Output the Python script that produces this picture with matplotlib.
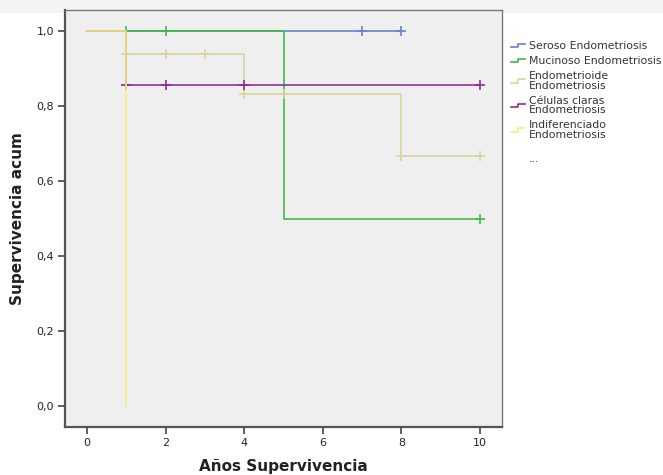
import matplotlib
matplotlib.use('Agg')
from matplotlib import pyplot as plt
from matplotlib.lines import Line2D
from matplotlib.legend_handler import HandlerBase
from matplotlib.patches import Rectangle
from matplotlib.ticker import FuncFormatter

# datos Kaplan-Meier
grupos = ['Seroso Endometriosis', 'Mucinoso Endometriosis', 'Endometrioide\nEndometriosis',
          'Células claras\nEndometriosis', 'Indiferenciado\nEndometriosis']
colores = ['#6a7fd0', '#3dbb4c', '#d9d49c', '#8e2e8e', '#f6f07a']

seroso_t = [0, 8]
seroso_s = [1.0, 1.0]
seroso_ct = [7, 8]
seroso_cs = [1.0, 1.0]

mucinoso_t = [0, 5, 10]
mucinoso_s = [1.0, 0.5, 0.5]
mucinoso_ct = [1, 2, 10]
mucinoso_cs = [1.0, 1.0, 0.5]

endometrioide_t = [0, 1, 4, 8, 10]
endometrioide_s = [1.0, 0.9375, 0.8333, 0.6667, 0.6667]
endometrioide_ct = [1, 2, 3, 4, 5, 8, 10]
endometrioide_cs = [0.9375, 0.9375, 0.9375, 0.8333, 0.8333, 0.6667, 0.6667]

claras_t = [0, 1, 10]
claras_s = [1.0, 0.857, 0.857]
claras_ct = [1, 2, 4, 10]
claras_cs = [0.857, 0.857, 0.857, 0.857]

indif_t = [0, 1, 1]
indif_s = [1.0, 1.0, 0.0]
indif_ct = []
indif_cs = []

series = [
    (seroso_t, seroso_s, seroso_ct, seroso_cs),
    (mucinoso_t, mucinoso_s, mucinoso_ct, mucinoso_cs),
    (endometrioide_t, endometrioide_s, endometrioide_ct, endometrioide_cs),
    (claras_t, claras_s, claras_ct, claras_cs),
    (indif_t, indif_s, indif_ct, indif_cs),
]


class StepHandler(HandlerBase):
    def create_artists(self, legend, orig_handle, xdescent, ydescent,
                       width, height, fontsize, trans):
        x0 = -xdescent
        y0 = -ydescent
        xs = [x0, x0 + width * 0.5, x0 + width * 0.5, x0 + width]
        ys = [y0 + height * 0.25, y0 + height * 0.25, y0 + height * 0.75, y0 + height * 0.75]
        ln = Line2D(xs, ys, color=orig_handle.get_color(), lw=1.2, transform=trans)
        return [ln]


fig = plt.figure(figsize=(6.63, 4.75), dpi=100)
fig.patches.append(Rectangle((0, 1 - 13 / 475), 1, 13 / 475, transform=fig.transFigure,
                             facecolor='#f4f4f4', edgecolor='none', zorder=-1))
ax = fig.add_axes([65 / 663, 1 - 427 / 475, 437 / 663, 417 / 475])
ax.set_facecolor('#efefef')

handles = []
for (t, s, ct, cs), c, g in zip(series, colores, grupos):
    ln, = ax.plot(t, s, drawstyle='steps-post', color=c, lw=1.3, alpha=0.9)
    if ct:
        ax.plot(ct, cs, linestyle='none', marker='+', markersize=7, mew=1.2, color=c)
    handles.append(Line2D([], [], color=c))

handles.append(Line2D([], [], color='none'))
labels = grupos + ['\n...']

ax.set_xlim(-0.56, 10.56)
ax.set_ylim(-0.056, 1.056)
ax.set_xticks([0, 2, 4, 6, 8, 10])
ax.set_yticks([0.0, 0.2, 0.4, 0.6, 0.8, 1.0])
ax.yaxis.set_major_formatter(FuncFormatter(lambda v, p: ('%.1f' % v).replace('.', ',')))
ax.tick_params(axis='both', direction='out', length=5, width=1.2, color='#444444',
               labelsize=8, labelcolor='#222222', pad=3)
for side in ['top', 'right']:
    ax.spines[side].set_color('#777777')
    ax.spines[side].set_linewidth(1.0)
for side in ['left', 'bottom']:
    ax.spines[side].set_color('#555555')
    ax.spines[side].set_linewidth(1.6)

ax.set_xlabel('Años Supervivencia', fontsize=11, fontweight='bold', labelpad=8, color='#222222')
ax.set_ylabel('Supervivencia acum', fontsize=11, fontweight='bold', labelpad=8, color='#222222')

leg = fig.legend(handles, labels, loc='upper left', bbox_to_anchor=(507 / 663, 1 - 37 / 475),
                 frameon=False, fontsize=7.8, handlelength=1.3, handletextpad=0.3,
                 labelspacing=0.45, handler_map={Line2D: StepHandler()}, borderaxespad=0)
for txt in leg.get_texts():
    txt.set_linespacing(0.95)
    txt.set_color('#333333')

plt.savefig('out.png', dpi=100)
